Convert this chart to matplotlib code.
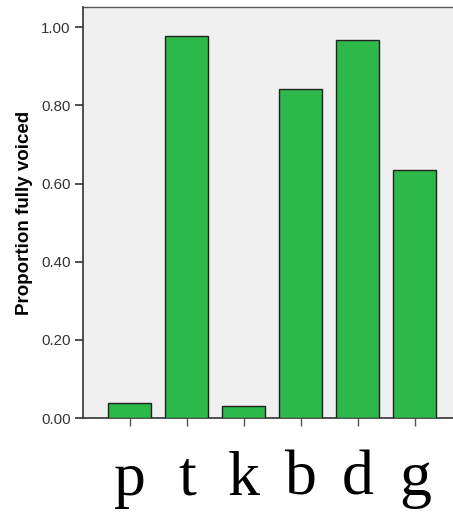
import matplotlib
matplotlib.use("Agg")
import matplotlib.pyplot as plt
from matplotlib.ticker import FormatStrFormatter

categories = ["p", "t", "k", "b", "d", "g"]
values = [0.038, 0.977, 0.031, 0.841, 0.967, 0.634]
yticks = [0.0, 0.2, 0.4, 0.6, 0.8, 1.0]

fig = plt.figure(figsize=(4.53, 5.13), dpi=100)
ax = fig.add_axes([83/453, 95/513, 1 - 83/453, (418-7)/513])
ax.set_facecolor("#f0f0f0")
x = list(range(len(categories)))
ax.bar(x, values, width=0.75, color="#2db84a", edgecolor="#222222", linewidth=1.0, zorder=3)
ax.set_xlim(-0.82, 5.67)
ax.set_ylim(0, 1.052)
ax.set_yticks(yticks)
ax.yaxis.set_major_formatter(FormatStrFormatter("%.2f"))
ax.set_xticks(x)
ax.set_xticklabels(categories, fontfamily="Liberation Serif", fontsize=46)
for lab in ax.get_yticklabels():
    lab.set_fontfamily("Liberation Sans")
    lab.set_fontsize(10.8)
    lab.set_color("#333333")
ax.tick_params(axis="y", length=6, width=1.2, color="#333333", pad=3)
ax.tick_params(axis="x", length=6, width=1.0, color="#555555", pad=17.5)
for s in ["top", "right"]:
    ax.spines[s].set_visible(False)
ax.spines["left"].set_color("#333333")
ax.spines["left"].set_linewidth(1.2)
ax.spines["bottom"].set_color("#333333")
ax.spines["bottom"].set_linewidth(1.2)
ax.plot([0, 1], [1, 1], transform=ax.transAxes, color="#555555", lw=1.0, clip_on=False)
ax.set_ylabel("Proportion fully voiced", fontfamily="Liberation Sans", fontweight="bold", fontsize=13.5, labelpad=6)
fig.savefig("out.png", dpi=100)
